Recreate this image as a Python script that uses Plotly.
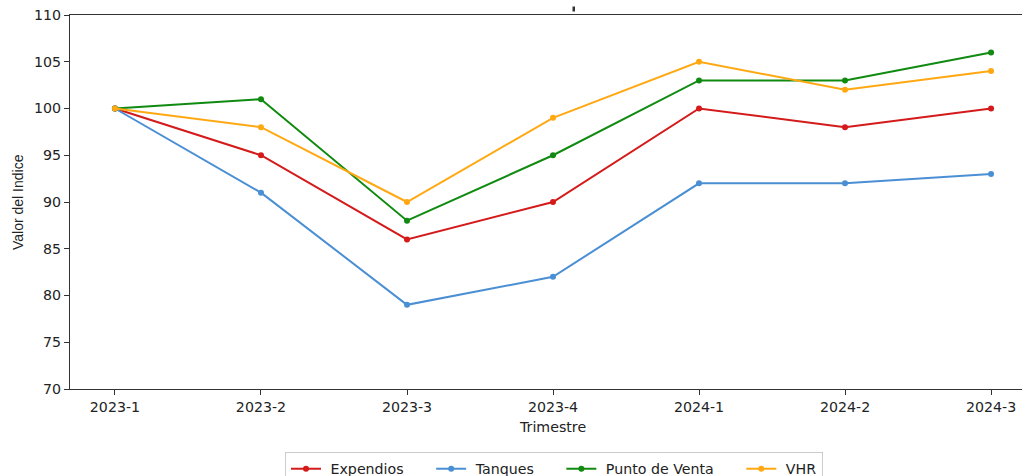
import plotly.graph_objects as go

# Quarterly index values per channel (base 2023-1 = 100)
trimestres = ["2023-1", "2023-2", "2023-3", "2023-4", "2024-1", "2024-2", "2024-3"]
expendios = [100, 95, 86, 90, 100, 98, 100]
tanques = [100, 91, 79, 82, 92, 92, 93]
punto_venta = [100, 101, 88, 95, 103, 103, 106]
vhr = [100, 98, 90, 99, 105, 102, 104]

series = [
    ("Expendios", expendios, "#d41a1a"),
    ("Tanques", tanques, "#4a8fd4"),
    ("Punto de Venta", punto_venta, "#108a10"),
    ("VHR", vhr, "#ffa812"),
]

W, H = 1022, 476
L, R, T, B = 70, 0, 15, 87
PW, PH = W - L - R, H - T - B


def px_x(x):
    return (x - L) / PW


def px_y(y):
    return (H - B - y) / PH


NBSP = "\u00a0"
fig = go.Figure()
for i, (name, vals, color) in enumerate(series):
    # padded legend label for wider spacing between entries
    label = NBSP + name + (NBSP * 5 if i < len(series) - 1 else "")
    fig.add_trace(go.Scatter(
        x=trimestres, y=vals, name=label, mode="lines+markers",
        line=dict(color=color, width=2),
        marker=dict(color=color, size=6),
    ))

font = dict(family="DejaVu Sans", size=14.2, color="#222")

fig.update_layout(
    width=W, height=H,
    margin=dict(l=L, r=R, t=T, b=B, autoexpand=False),
    plot_bgcolor="white", paper_bgcolor="white",
    showlegend=True,
    legend=dict(
        orientation="h", xanchor="center", yanchor="top",
        x=px_x(554), y=px_y(452),
        bordercolor="#cccccc", borderwidth=1,
        font=font, itemwidth=30,
    ),
    xaxis=dict(
        type="category", range=[-0.308, 6.212],
        showline=True, linecolor="#333", linewidth=1, mirror=True,
        ticks="outside", ticklen=5, tickcolor="#333",
        showgrid=False, zeroline=False, tickfont=font,
    ),
    yaxis=dict(
        range=[70, 110], dtick=5,
        showline=True, linecolor="#333", linewidth=1,
        ticks="outside", ticklen=5, tickcolor="#333",
        showgrid=False, zeroline=False, tickfont=font,
    ),
    annotations=[
        dict(text="Trimestre", xref="paper", yref="paper",
             x=px_x(552.5), y=px_y(427),
             xanchor="center", yanchor="middle", showarrow=False,
             font=font),
        dict(text="Valor del Indice", xref="paper", yref="paper",
             x=px_x(18), y=0.5, textangle=-90,
             xanchor="center", yanchor="middle", showarrow=False,
             font=dict(family="Liberation Sans", size=14, color="#222")),
    ],
    shapes=[
        dict(type="rect", xref="paper", yref="paper",
             x0=px_x(572.5), x1=px_x(575), y0=px_y(11.5), y1=px_y(6.5),
             fillcolor="#333", line=dict(width=0)),
    ],
)

fig.write_html("out.html")
